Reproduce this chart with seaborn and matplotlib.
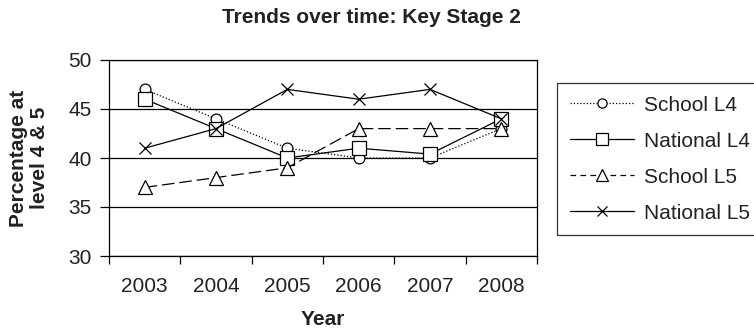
import matplotlib
matplotlib.use("Agg")
import matplotlib.pyplot as plt
import seaborn as sns
import pandas as pd
from matplotlib.lines import Line2D
from matplotlib.ticker import FixedLocator, NullFormatter

years = ["2003", "2004", "2005", "2006", "2007", "2008"]
school_l4 = [47, 44, 41, 40, 40, 43]
national_l4 = [46, 43, 40, 41, 40.4, 44]
school_l5 = [37, 38, 39, 43, 43, 43]
national_l5 = [41, 43, 47, 46, 47, 44]
series_names = ["School L4", "National L4", "School L5", "National L5"]

sns.set_theme(style="white")
plt.rcParams["font.family"] = ["Liberation Sans", "DejaVu Sans"]

FS = 15
fig = plt.figure(figsize=(7.54, 3.29), dpi=100)
ax = fig.add_axes([109/754, 1-256/329, (537-109)/754, (256-60)/329])

xpos = list(range(len(years)))
styles = [
    dict(marker="o", ms=7.8, dashes=(1, 1.6), legdash=(1, 1.6)),
    dict(marker="s", ms=10, dashes=None, legdash=None),
    dict(marker="^", ms=9.5, dashes=(10, 4), legdash=(4.5, 3.5)),
    dict(marker="x", ms=8.6, dashes=None, legdash=None),
]
data = [school_l4, national_l4, school_l5, national_l5]

handles = []
for name, vals, st in zip(series_names, data, styles):
    df = pd.DataFrame({"x": xpos, "y": vals})
    sns.lineplot(data=df, x="x", y="y", ax=ax, color="black", linewidth=0.9,
                 marker=st["marker"], markersize=st["ms"], markerfacecolor="white",
                 markeredgecolor="black", markeredgewidth=0.9, label=name)
    line = ax.get_lines()[-1]
    if st["dashes"] is not None:
        line.set_dashes(st["dashes"])
    h = Line2D([], [], color="black", linewidth=0.9, marker=st["marker"],
               markersize=st["ms"] * 0.85, markerfacecolor="white",
               markeredgecolor="black", markeredgewidth=0.9)
    if st["legdash"] is not None:
        h.set_dashes(st["legdash"])
    handles.append(h)

ax.set_xlim(-0.5, 5.5)
ax.set_ylim(30, 50)
ax.set_yticks([30, 35, 40, 45, 50])
ax.tick_params(axis="y", labelsize=FS, length=6.5, width=0.9, direction="out",
               left=True, color="black", pad=6, labelcolor="#222222")
ax.yaxis.grid(True, color="black", linewidth=0.9)
ax.set_axisbelow(True)

ax.set_xticks(xpos)
ax.set_xticklabels(years, fontsize=FS, color="#222222")
ax.tick_params(axis="x", which="major", length=0, pad=15)
ax.xaxis.set_minor_locator(FixedLocator([i - 0.5 for i in range(len(years) + 1)]))
ax.xaxis.set_minor_formatter(NullFormatter())
ax.tick_params(axis="x", which="minor", length=5.8, width=0.9, direction="out",
               bottom=True, color="black")

for s in ax.spines.values():
    s.set_color("black")
    s.set_linewidth(0.9)

ax.set_xlabel("Year", fontsize=FS, fontweight="bold", labelpad=10, color="#222222")
ax.set_ylabel("Percentage at\nlevel 4 & 5", fontsize=FS, fontweight="bold",
              labelpad=14, color="#222222", linespacing=1.1)
fig.text(371/754, 1-23/329, "Trends over time: Key Stage 2", fontsize=FS,
         fontweight="bold", ha="center", va="baseline", color="#222222")

ax.get_legend().remove()
leg = fig.legend(handles=handles, labels=series_names, loc="upper left",
                 bbox_to_anchor=(557/754, 1-83/329), fontsize=FS, frameon=True,
                 fancybox=False, edgecolor="black", labelspacing=0.82,
                 handlelength=3.1, handletextpad=0.48, borderpad=0.6,
                 borderaxespad=0)
leg.get_frame().set_linewidth(0.9)
for t in leg.get_texts():
    t.set_color("#222222")

fig.savefig("out.png", dpi=100)
